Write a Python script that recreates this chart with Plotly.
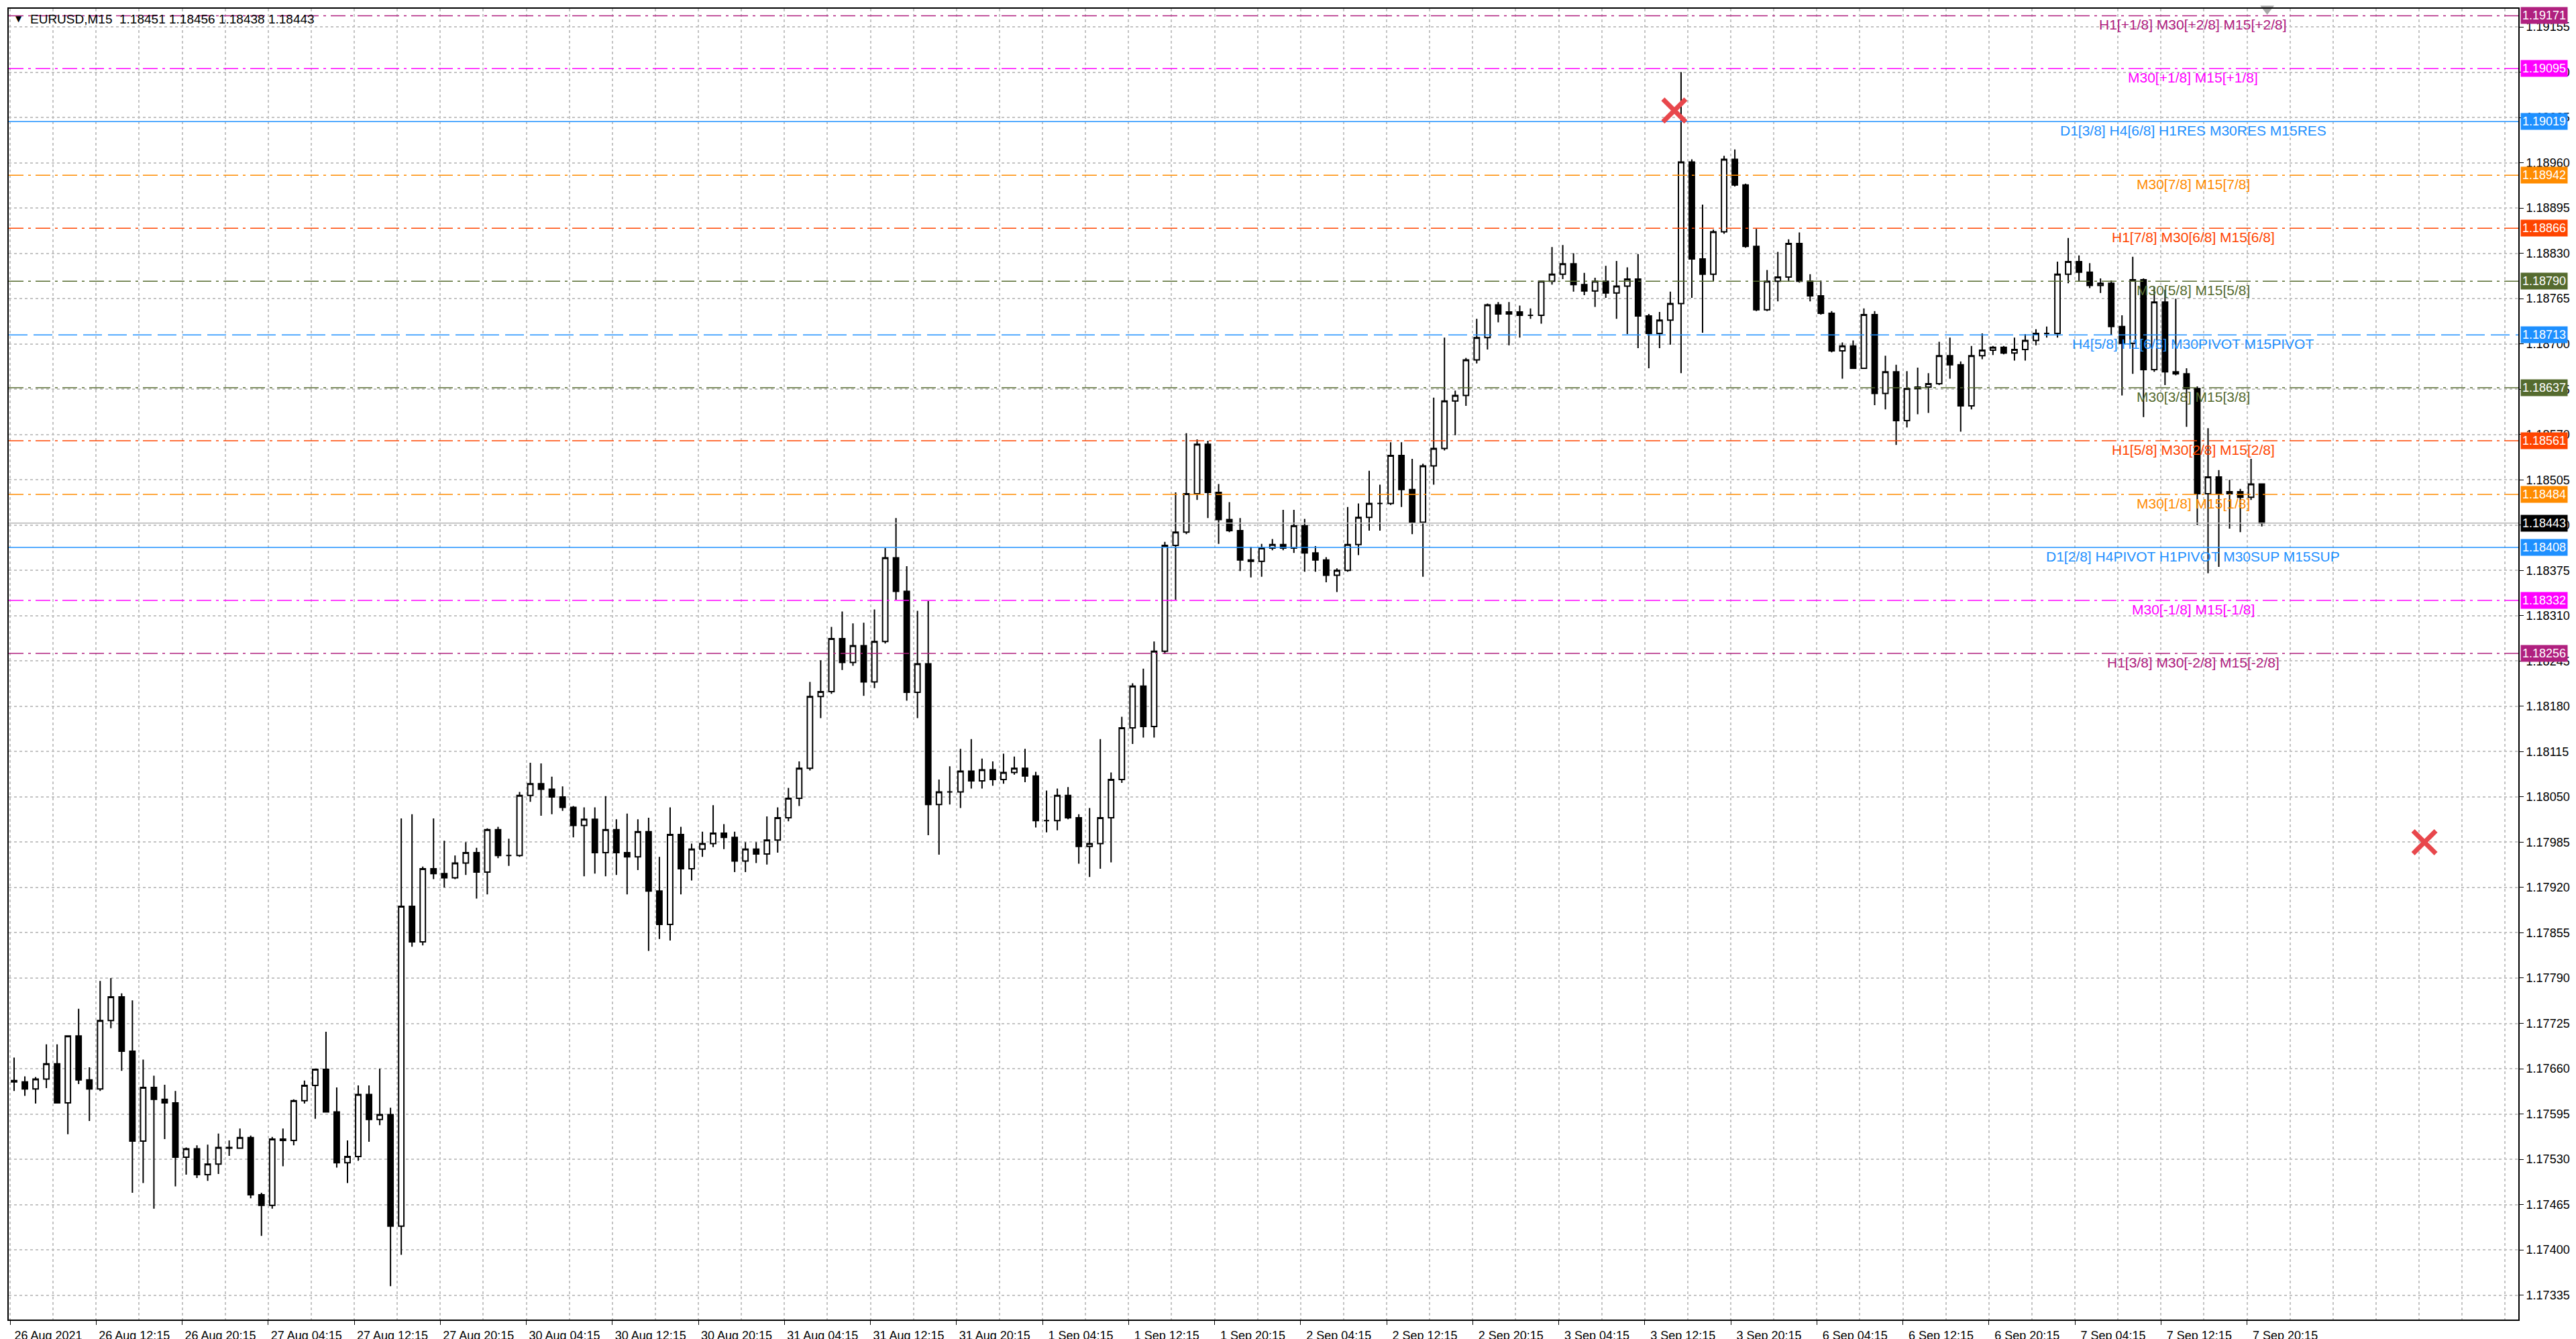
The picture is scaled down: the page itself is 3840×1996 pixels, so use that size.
import plotly.graph_objects as go

# EURUSD M15, 26 Aug - 7 Sep 2021 in 1 hour steps (4 M15 bars each)
opens = [
    1.17643, 1.17641, 1.17631, 1.17645, 1.17667, 1.17611, 1.17707, 1.17644, 1.17631, 1.17729,
    1.17763, 1.17685, 1.17556, 1.17633, 1.17616, 1.17611, 1.17533, 1.17545, 1.17508, 1.17523,
    1.17547, 1.17546, 1.17561, 1.17479, 1.17464, 1.17559, 1.17557, 1.17614, 1.17636, 1.17659,
    1.17598, 1.17525, 1.17534, 1.17623, 1.17587, 1.17594, 1.17434, 1.17893, 1.17842, 1.17947,
    1.17940, 1.17934, 1.17955, 1.17970, 1.17942, 1.18003, 1.17966, 1.17966, 1.18052, 1.18069,
    1.18061, 1.18050, 1.18035, 1.18009, 1.18018, 1.17970, 1.18003, 1.17970, 1.17964, 1.18000,
    1.17915, 1.17867, 1.17996, 1.17947, 1.17975, 1.17983, 1.17998, 1.17992, 1.17958, 1.17975,
    1.17968, 1.17988, 1.18020, 1.18048, 1.18091, 1.18194, 1.18201, 1.18277, 1.18243, 1.18267,
    1.18215, 1.18273, 1.18393, 1.18345, 1.18200, 1.18241, 1.18039, 1.18057, 1.18057, 1.18087,
    1.18073, 1.18089, 1.18075, 1.18085, 1.18091, 1.18080, 1.18016, 1.18016, 1.18052, 1.18020,
    1.17979, 1.17983, 1.18020, 1.18075, 1.18149, 1.18209, 1.18151, 1.18259, 1.18411, 1.18430,
    1.18485, 1.18556, 1.18487, 1.18448, 1.18432, 1.18390, 1.18388, 1.18407, 1.18412, 1.18407,
    1.18439, 1.18400, 1.18390, 1.18368, 1.18375, 1.18412, 1.18451, 1.18471, 1.18471, 1.18540,
    1.18491, 1.18444, 1.18525, 1.18550, 1.18618, 1.18626, 1.18677, 1.18709, 1.18756, 1.18743,
    1.18746, 1.18741, 1.18741, 1.18790, 1.18800, 1.18815, 1.18785, 1.18776, 1.18790, 1.18773,
    1.18783, 1.18793, 1.18740, 1.18715, 1.18734, 1.18758, 1.18961, 1.18822, 1.18800, 1.18861,
    1.18965, 1.18928, 1.18840, 1.18749, 1.18790, 1.18796, 1.18844, 1.18790, 1.18769, 1.18744,
    1.18690, 1.18697, 1.18665, 1.18742, 1.18629, 1.18660, 1.18590, 1.18636, 1.18638, 1.18643,
    1.18683, 1.18670, 1.18611, 1.18683, 1.18691, 1.18695, 1.18687, 1.18692, 1.18705, 1.18715,
    1.18715, 1.18800, 1.18818, 1.18803, 1.18784, 1.18787, 1.18725, 1.18701, 1.18792, 1.18663,
    1.18760, 1.18660, 1.18657, 1.18636, 1.18485, 1.18509, 1.18485, 1.18488, 1.18480, 1.18499,
]
highs = [
    1.17676, 1.17649, 1.17648, 1.17695, 1.17695, 1.17707, 1.17746, 1.17662, 1.17786, 1.17790,
    1.17768, 1.17758, 1.17673, 1.17650, 1.17637, 1.17628, 1.17547, 1.17550, 1.17551, 1.17567,
    1.17557, 1.17574, 1.17564, 1.17482, 1.17562, 1.17574, 1.17616, 1.17643, 1.17660, 1.17713,
    1.17633, 1.17557, 1.17636, 1.17636, 1.17660, 1.17604, 1.18019, 1.18025, 1.17950, 1.18019,
    1.17987, 1.17966, 1.17985, 1.17977, 1.18005, 1.18007, 1.17990, 1.18057, 1.18099, 1.18098,
    1.18079, 1.18065, 1.18037, 1.18035, 1.18035, 1.18051, 1.18018, 1.18026, 1.18018, 1.18020,
    1.17964, 1.18035, 1.18007, 1.17983, 1.18000, 1.18038, 1.18011, 1.18000, 1.17985, 1.17985,
    1.18022, 1.18035, 1.18063, 1.18101, 1.18215, 1.18246, 1.18294, 1.18316, 1.18299, 1.18300,
    1.18319, 1.18407, 1.18450, 1.18381, 1.18317, 1.18331, 1.18075, 1.18094, 1.18119, 1.18133,
    1.18105, 1.18101, 1.18112, 1.18108, 1.18119, 1.18086, 1.18059, 1.18062, 1.18064, 1.18025,
    1.18034, 1.18133, 1.18085, 1.18165, 1.18213, 1.18234, 1.18273, 1.18416, 1.18487, 1.18572,
    1.18563, 1.18561, 1.18499, 1.18473, 1.18450, 1.18409, 1.18413, 1.18420, 1.18462, 1.18462,
    1.18449, 1.18410, 1.18394, 1.18378, 1.18466, 1.18471, 1.18518, 1.18498, 1.18559, 1.18559,
    1.18535, 1.18528, 1.18623, 1.18709, 1.18633, 1.18680, 1.18736, 1.18758, 1.18760, 1.18760,
    1.18755, 1.18751, 1.18790, 1.18839, 1.18842, 1.18830, 1.18802, 1.18795, 1.18812, 1.18819,
    1.18810, 1.18829, 1.18743, 1.18746, 1.18775, 1.19090, 1.18965, 1.18900, 1.18864, 1.18970,
    1.18979, 1.18930, 1.18865, 1.18806, 1.18832, 1.18850, 1.18860, 1.18800, 1.18791, 1.18747,
    1.18702, 1.18705, 1.18751, 1.18747, 1.18683, 1.18670, 1.18661, 1.18666, 1.18658, 1.18703,
    1.18709, 1.18675, 1.18697, 1.18715, 1.18697, 1.18697, 1.18709, 1.18714, 1.18721, 1.18725,
    1.18818, 1.18852, 1.18827, 1.18816, 1.18794, 1.18791, 1.18741, 1.18825, 1.18794, 1.18782,
    1.18778, 1.18765, 1.18665, 1.18639, 1.18579, 1.18519, 1.18505, 1.18492, 1.18535, 1.18500,
]
lows = [
    1.17628, 1.17621, 1.17610, 1.17632, 1.17611, 1.17566, 1.17638, 1.17585, 1.17628, 1.17718,
    1.17657, 1.17482, 1.17496, 1.17459, 1.17559, 1.17491, 1.17508, 1.17503, 1.17499, 1.17509,
    1.17535, 1.17545, 1.17474, 1.17420, 1.17459, 1.17520, 1.17550, 1.17610, 1.17588, 1.17598,
    1.17518, 1.17496, 1.17528, 1.17555, 1.17579, 1.17348, 1.17393, 1.17835, 1.17837, 1.17932,
    1.17920, 1.17932, 1.17938, 1.17904, 1.17910, 1.17962, 1.17951, 1.17964, 1.18043, 1.18023,
    1.18025, 1.18030, 1.17992, 1.17936, 1.17940, 1.17936, 1.17938, 1.17910, 1.17945, 1.17829,
    1.17846, 1.17844, 1.17910, 1.17930, 1.17964, 1.17978, 1.17975, 1.17942, 1.17942, 1.17955,
    1.17953, 1.17970, 1.18015, 1.18037, 1.18088, 1.18163, 1.18198, 1.18232, 1.18238, 1.18195,
    1.18206, 1.18270, 1.18333, 1.18188, 1.18163, 1.17995, 1.17967, 1.18039, 1.18034, 1.18062,
    1.18062, 1.18066, 1.18069, 1.18082, 1.18071, 1.18006, 1.17999, 1.18002, 1.18018, 1.17954,
    1.17935, 1.17947, 1.17956, 1.18070, 1.18126, 1.18135, 1.18135, 1.18255, 1.18333, 1.18427,
    1.18476, 1.18450, 1.18413, 1.18430, 1.18374, 1.18365, 1.18366, 1.18404, 1.18404, 1.18400,
    1.18373, 1.18373, 1.18358, 1.18344, 1.18373, 1.18397, 1.18432, 1.18432, 1.18469, 1.18466,
    1.18427, 1.18366, 1.18498, 1.18547, 1.18569, 1.18611, 1.18672, 1.18692, 1.18731, 1.18698,
    1.18709, 1.18736, 1.18729, 1.18785, 1.18793, 1.18775, 1.18770, 1.18753, 1.18766, 1.18736,
    1.18714, 1.18694, 1.18665, 1.18694, 1.18699, 1.18658, 1.18766, 1.18716, 1.18790, 1.18858,
    1.18926, 1.18838, 1.18747, 1.18747, 1.18761, 1.18790, 1.18788, 1.18761, 1.18742, 1.18688,
    1.18650, 1.18664, 1.18664, 1.18612, 1.18606, 1.18555, 1.18580, 1.18599, 1.18601, 1.18641,
    1.18650, 1.18574, 1.18606, 1.18678, 1.18684, 1.18685, 1.18676, 1.18676, 1.18698, 1.18709,
    1.18709, 1.18787, 1.18790, 1.18780, 1.18773, 1.18713, 1.18626, 1.18657, 1.18595, 1.18660,
    1.18641, 1.18655, 1.18581, 1.18440, 1.18371, 1.18380, 1.18435, 1.18430, 1.18476, 1.18438,
]
closes = [
    1.17641, 1.17631, 1.17645, 1.17667, 1.17611, 1.17707, 1.17644, 1.17631, 1.17729, 1.17763,
    1.17685, 1.17556, 1.17633, 1.17616, 1.17611, 1.17533, 1.17545, 1.17508, 1.17523, 1.17547,
    1.17546, 1.17561, 1.17479, 1.17464, 1.17559, 1.17557, 1.17614, 1.17636, 1.17659, 1.17598,
    1.17525, 1.17534, 1.17623, 1.17587, 1.17594, 1.17434, 1.17893, 1.17842, 1.17947, 1.17940,
    1.17934, 1.17955, 1.17970, 1.17942, 1.18003, 1.17966, 1.17966, 1.18052, 1.18069, 1.18061,
    1.18050, 1.18035, 1.18009, 1.18018, 1.17970, 1.18003, 1.17970, 1.17964, 1.18000, 1.17915,
    1.17867, 1.17996, 1.17947, 1.17975, 1.17983, 1.17998, 1.17992, 1.17958, 1.17975, 1.17968,
    1.17988, 1.18020, 1.18048, 1.18091, 1.18194, 1.18201, 1.18277, 1.18243, 1.18267, 1.18215,
    1.18273, 1.18393, 1.18345, 1.18200, 1.18241, 1.18039, 1.18057, 1.18057, 1.18087, 1.18073,
    1.18089, 1.18075, 1.18085, 1.18091, 1.18080, 1.18016, 1.18016, 1.18052, 1.18020, 1.17979,
    1.17983, 1.18020, 1.18075, 1.18149, 1.18209, 1.18151, 1.18259, 1.18411, 1.18430, 1.18485,
    1.18556, 1.18487, 1.18448, 1.18432, 1.18390, 1.18388, 1.18407, 1.18412, 1.18407, 1.18439,
    1.18400, 1.18390, 1.18368, 1.18375, 1.18412, 1.18451, 1.18471, 1.18471, 1.18540, 1.18491,
    1.18444, 1.18525, 1.18550, 1.18618, 1.18626, 1.18677, 1.18709, 1.18756, 1.18743, 1.18746,
    1.18741, 1.18741, 1.18790, 1.18800, 1.18815, 1.18785, 1.18776, 1.18790, 1.18773, 1.18783,
    1.18793, 1.18740, 1.18715, 1.18734, 1.18758, 1.18961, 1.18822, 1.18800, 1.18861, 1.18965,
    1.18928, 1.18840, 1.18749, 1.18790, 1.18796, 1.18844, 1.18790, 1.18769, 1.18744, 1.18690,
    1.18697, 1.18665, 1.18742, 1.18629, 1.18660, 1.18590, 1.18636, 1.18638, 1.18643, 1.18683,
    1.18670, 1.18611, 1.18683, 1.18691, 1.18695, 1.18687, 1.18692, 1.18705, 1.18715, 1.18715,
    1.18800, 1.18818, 1.18803, 1.18784, 1.18787, 1.18725, 1.18701, 1.18792, 1.18663, 1.18760,
    1.18660, 1.18657, 1.18636, 1.18485, 1.18509, 1.18485, 1.18488, 1.18480, 1.18499, 1.18443,
]

# x is counted in M15 bars, every candle holds 4 of them
bars_per_candle = 4
bar_x = [bars_per_candle * k + 1.5 for k in range(len(closes))]

time_labels = [
    "26 Aug 2021", "26 Aug 12:15", "26 Aug 20:15", "27 Aug 04:15", "27 Aug 12:15",
    "27 Aug 20:15", "30 Aug 04:15", "30 Aug 12:15", "30 Aug 20:15", "31 Aug 04:15",
    "31 Aug 12:15", "31 Aug 20:15", "1 Sep 04:15", "1 Sep 12:15", "1 Sep 20:15",
    "2 Sep 04:15", "2 Sep 12:15", "2 Sep 20:15", "3 Sep 04:15", "3 Sep 12:15",
    "3 Sep 20:15", "6 Sep 04:15", "6 Sep 12:15", "6 Sep 20:15", "7 Sep 04:15",
    "7 Sep 12:15", "7 Sep 20:15",
]
label_step = 32  # M15 bars between two time labels

# Murrey math levels
levels = [1.19171, 1.19095, 1.19019, 1.18942, 1.18866, 1.18790, 1.18713,
          1.18637, 1.18561, 1.18484, 1.18408, 1.18332, 1.18256]
level_names = [
    "H1[+1/8] M30[+2/8] M15[+2/8]",
    "M30[+1/8] M15[+1/8]",
    "D1[3/8] H4[6/8] H1RES M30RES M15RES",
    "M30[7/8] M15[7/8]",
    "H1[7/8] M30[6/8] M15[6/8]",
    "M30[5/8] M15[5/8]",
    "H4[5/8] H1[6/8] M30PIVOT M15PIVOT",
    "M30[3/8] M15[3/8]",
    "H1[5/8] M30[2/8] M15[2/8]",
    "M30[1/8] M15[1/8]",
    "D1[2/8] H4PIVOT H1PIVOT M30SUP M15SUP",
    "M30[-1/8] M15[-1/8]",
    "H1[3/8] M30[-2/8] M15[-2/8]",
]
level_colors = ["#B0207F", "#FF00FF", "#1E90FF", "#FF8C00", "#FF4500", "#556B2F", "#1E90FF",
                "#556B2F", "#FF4500", "#FF8C00", "#1E90FF", "#FF00FF", "#B0207F"]
dashdot = "22px,7px,4px,7px"
level_dash = [dashdot, dashdot, "solid", dashdot, dashdot, dashdot, "28px,9px",
              dashdot, dashdot, dashdot, "solid", dashdot, dashdot]
label_x = 812

last_bar = [1.18451, 1.18456, 1.18438, 1.18443]
bid = 1.18443

fractal_x = [619, 898]
fractal_y = [1.19035, 1.17985]

y_min, y_max = 1.17300, 1.19181
x_min, x_max = -0.5, 932.9

font_family = "Liberation Sans, Arial, sans-serif"
grid = "#c3c3c3"

fig = go.Figure()

# horizontal level lines across the whole chart
for lv, col, ds in zip(levels, level_colors, level_dash):
    fig.add_trace(go.Scatter(
        x=[x_min, x_max], y=[lv, lv], mode="lines",
        line=dict(color=col, width=1.5, dash=ds), hoverinfo="skip",
    ))
fig.add_trace(go.Scatter(
    x=[x_min, x_max], y=[bid, bid], mode="lines",
    line=dict(color="#b4b4b4", width=1.5), hoverinfo="skip",
))

fig.add_trace(go.Candlestick(
    x=bar_x, open=opens, high=highs, low=lows, close=closes,
    increasing=dict(line=dict(color="black", width=2), fillcolor="white"),
    decreasing=dict(line=dict(color="black", width=2), fillcolor="black"),
    whiskerwidth=0,
))

fig.add_trace(go.Scatter(
    x=fractal_x, y=fractal_y, mode="markers",
    marker=dict(symbol="x-thin", size=34, line=dict(width=7, color="#E8474C")),
    hoverinfo="skip",
))

# chart shift marker at the top border
fig.add_trace(go.Scatter(
    x=[bar_x[-1] + 2], y=[y_max], mode="markers", cliponaxis=False,
    marker=dict(symbol="triangle-down", size=18, color="#a8a8a8"),
    hoverinfo="skip",
))

# level names written just under each line
for lv, name, col in zip(levels, level_names, level_colors):
    fig.add_annotation(
        x=label_x, y=lv, xanchor="center", yanchor="top", yshift=-1,
        text=name, showarrow=False, borderpad=0,
        font=dict(family=font_family, size=21, color=col),
    )

# coloured price boxes on the price scale
for lv, col in zip(levels + [bid], level_colors + ["black"]):
    fig.add_annotation(
        x=1, xref="paper", y=lv, yref="y", xanchor="left", yanchor="middle", xshift=3,
        text=f"{lv:.5f}", showarrow=False, bgcolor=col, borderpad=2,
        font=dict(family=font_family, size=18, color="white"),
    )

fig.add_annotation(
    x=0, xref="paper", y=1, yref="paper", xanchor="left", yanchor="top",
    xshift=8, yshift=-6, showarrow=False, text="\u25bc",
    font=dict(family="DejaVu Sans", size=12, color="black"),
)
fig.add_annotation(
    x=0, xref="paper", y=1, yref="paper", xanchor="left", yanchor="top",
    xshift=30, yshift=-3, showarrow=False,
    text="EURUSD,M15  " + " ".join(f"{v:.5f}" for v in last_bar),
    font=dict(family=font_family, size=19, color="black"),
)

fig.update_layout(
    width=3840, height=1996,
    margin=dict(l=3, r=94, t=5, b=35),
    paper_bgcolor="white", plot_bgcolor="white",
    showlegend=False,
    font=dict(family=font_family, size=18, color="black"),
    xaxis=dict(
        range=[x_min, x_max], rangeslider=dict(visible=False),
        tickmode="array",
        tickvals=[label_step * n for n in range(len(time_labels))],
        ticktext=time_labels,
        ticks="outside", ticklen=6, tickcolor="black", ticklabelshift=57,
        showgrid=True, gridcolor=grid, griddash="4px,4px", gridwidth=1.5,
        minor=dict(tickmode="linear", tick0=0, dtick=label_step // 2, showgrid=True,
                   gridcolor=grid, griddash="4px,4px", gridwidth=1.5, ticks=""),
        showline=True, linecolor="black", linewidth=2, mirror=True, zeroline=False,
    ),
    yaxis=dict(
        side="right", range=[y_min, y_max],
        tickmode="linear", tick0=1.17335, dtick=0.00065, tickformat=".5f",
        ticks="outside", ticklen=6, tickcolor="black",
        showgrid=True, gridcolor=grid, griddash="4px,4px", gridwidth=1.5,
        showline=True, linecolor="black", linewidth=2, mirror=True, zeroline=False,
    ),
)

fig.write_html("out.html")
